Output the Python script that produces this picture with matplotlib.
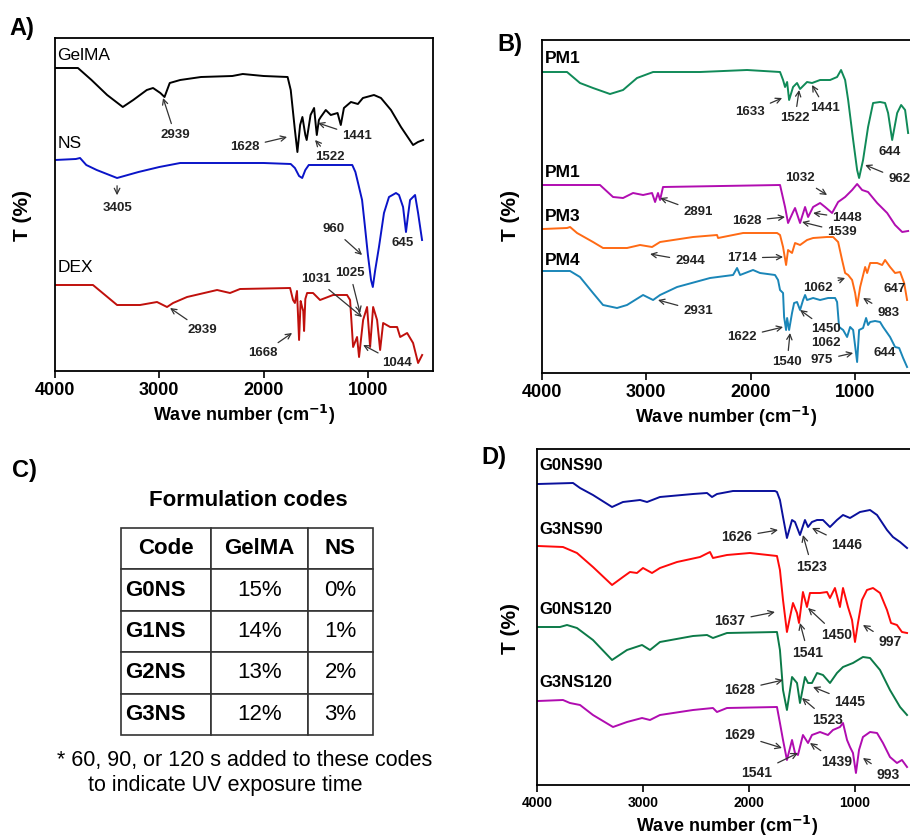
import matplotlib
matplotlib.use("Agg")
import matplotlib.pyplot as plt

plt.rcParams['font.family'] = ['Liberation Sans', 'DejaVu Sans']

# ---------------- Panel A data ----------------
gelma_wn = [4000,3780,3650,3500,3350,3250,3120,3060,2990,2950,2900,2800,2600,2300,2200,2000,1770,1740,1700,1676,1650,1628,1600,1587,1550,1516,1500,1490,1470,1452,1404,1356,1291,1260,1230,1163,1096,1048,942,875,779,683,567,520,471]
gelma_T  = [303,303,291,276,264,271,281,283,278,274,288,291,294,295,297,295,294,281,241,219,246,254,236,231,256,263,246,236,251,254,261,256,258,246,263,269,267,273,276,273,261,244,226,229,231]

ns_wn = [4000,3800,3760,3700,3600,3405,3200,3000,2800,2400,2000,1740,1700,1660,1630,1600,1567,1300,1150,1120,1090,1056,1030,1000,970,953,930,894,846,798,731,702,663,635,615,596,548,519,481]
ns_T  = [211,212,213,206,201,193,199,204,208,208,208,207,203,195,193,201,206,206,206,199,186,171,146,116,91,84,101,124,158,174,178,176,164,139,156,171,176,158,131]

dex_wn = [4000,3636,3405,3185,3022,2926,2868,2734,2446,2322,2226,1746,1718,1700,1680,1660,1645,1631,1620,1612,1600,1583,1526,1459,1334,1200,1171,1142,1104,1085,1046,1008,979,950,912,883,854,787,720,691,624,567,519,480]
dex_T  = [86,86,66,66,69,64,68,74,81,78,82,83,71,68,80,31,70,64,60,40,72,78,78,71,76,76,71,24,34,14,51,64,24,64,51,21,48,44,44,34,38,28,8,16]

# ---------------- Panel B data ----------------
pm1a_wn = [3990,3760,3636,3511,3348,3223,3089,2935,2485,2034,1718,1689,1670,1650,1631,1593,1555,1526,1459,1411,1334,1238,1171,1133,1094,1065,1017,979,960,922,874,826,759,711,682,643,595,557,519,490]
pm1a_T  = [301,301,290,285,279,283,295,301,301,303,301,293,286,291,273,286,290,284,291,290,293,293,296,303,293,273,233,203,195,213,246,270,271,270,260,233,260,268,263,240]

pm1b_wn = [3990,3444,3319,3223,3127,3031,2945,2916,2888,2868,2840,1718,1670,1641,1593,1574,1526,1478,1449,1401,1334,1286,1219,1161,1094,1027,979,931,874,787,691,615,547,490]
pm1b_T  = [188,188,176,175,180,178,180,171,180,173,186,188,166,150,161,165,150,166,156,166,170,166,160,171,176,183,189,183,181,170,160,148,141,142]

pm3_wn = [3990,3760,3731,3664,3511,3415,3185,3060,2945,2868,2552,2322,2312,2072,1746,1718,1689,1660,1641,1603,1574,1526,1459,1401,1267,1209,1161,1123,1094,1065,1027,998,979,950,902,883,854,787,739,711,663,615,567,528,500]
pm3_T  = [144,145,146,140,131,125,125,128,126,131,136,138,135,140,140,138,126,108,123,120,130,128,133,135,136,136,131,113,100,98,93,80,67,86,106,100,110,110,108,113,106,100,101,90,73]

pm4_wn = [3990,3731,3636,3511,3415,3281,3185,3031,2935,2868,2705,2389,2168,2130,2101,1977,1910,1766,1737,1718,1689,1679,1660,1650,1631,1603,1583,1555,1526,1497,1478,1459,1401,1334,1257,1190,1171,1152,1113,1075,1046,1017,979,960,922,893,874,854,807,759,730,663,615,576,538,500]
pm4_T  = [102,102,96,80,68,65,68,78,73,78,86,95,98,105,98,103,100,98,93,83,80,56,43,55,43,60,70,71,63,73,78,73,75,73,75,75,71,46,43,36,46,43,11,43,45,55,48,51,52,51,46,36,26,25,15,6]

# ---------------- Panel D data ----------------
g0ns90_wn = [3991,3660,3594,3472,3292,3189,3028,2962,2840,2528,2396,2349,2302,2151,1755,1736,1708,1679,1642,1594,1566,1519,1472,1443,1406,1358,1302,1236,1170,1113,1047,953,858,792,698,642,575,509]
g0ns90_T  = [301,302,297,290,278,283,285,283,288,291,292,288,291,294,294,293,285,268,247,265,263,250,265,258,263,265,265,258,265,270,267,273,275,270,255,248,243,237]

g3ns90_wn = [3991,3755,3689,3623,3472,3292,3189,3123,3057,3000,2915,2840,2679,2462,2368,2340,2208,1991,1736,1708,1679,1642,1613,1585,1547,1528,1491,1453,1425,1330,1264,1236,1189,1142,1113,1066,1028,1000,972,934,887,830,764,698,660,604,557,509]
g3ns90_T  = [239,238,235,232,218,200,208,213,212,217,212,217,223,228,233,227,230,232,229,215,185,153,168,182,172,162,193,178,192,192,193,187,197,178,197,178,165,143,162,185,195,197,192,175,162,160,153,152]

g0ns120_wn = [3991,3783,3717,3623,3472,3292,3151,3009,2934,2840,2528,2396,2340,2208,1736,1708,1679,1642,1594,1547,1519,1472,1443,1406,1358,1302,1236,1170,1113,1019,925,858,764,670,575,509]
g0ns120_T  = [158,158,160,157,145,125,135,140,135,143,149,150,147,152,153,135,95,75,108,102,82,108,102,102,112,110,102,112,118,122,128,127,115,95,78,70]

g3ns120_wn = [3991,3755,3689,3594,3472,3283,3151,3009,2934,2840,2528,2340,2302,2208,1736,1708,1679,1642,1594,1566,1538,1491,1443,1406,1330,1255,1208,1142,1113,1075,1047,1019,991,962,925,858,792,736,670,604,557,509]
g3ns120_T  = [84,85,82,80,70,58,63,67,65,70,75,77,73,77,78,62,45,25,45,32,30,50,42,50,53,50,55,58,62,45,38,32,12,35,48,53,52,42,28,22,25,18]

# ---------------- Table data (panel C) ----------------
table_cols = ["Code", "GelMA", "NS"]
table_codes = ["G0NS", "G1NS", "G2NS", "G3NS"]
table_gelma = ["15%", "14%", "13%", "12%"]
table_ns = ["0%", "1%", "2%", "3%"]

# ---------------- annotations: (label, tip_wn, tip_T, text_wn, text_T) ----------------
ann_A = [("2939", 2964, 273, 2849, 236), ("1628", 1775, 234, 2178, 224),
         ("1522", 1507, 231, 1363, 214), ("1441", 1478, 248, 1104, 235),
         ("960", 1056, 116, 1334, 142), ("1031", 1056, 54, 1497, 92),
         ("1025", 1075, 58, 1171, 98), ("2939", 2897, 63, 2590, 41),
         ("1668", 1727, 38, 2005, 18), ("1044", 1046, 26, 720, 8)]
txt_A = [("3405", 3396, 163), ("645", 672, 128)]

ann_B = [("1633", 1698, 275, 2005, 261), ("1522", 1535, 283, 1574, 255),
         ("1441", 1411, 288, 1286, 265), ("962", 902, 208, 576, 194),
         ("1032", 1267, 178, 1526, 195), ("2891", 2868, 175, 2504, 161),
         ("1628", 1670, 156, 2034, 152), ("1448", 1401, 160, 1075, 155),
         ("1539", 1507, 151, 1123, 141), ("2944", 2964, 119, 2581, 112),
         ("1714", 1689, 116, 2082, 115), ("1062", 1094, 95, 1353, 85),
         ("983", 922, 75, 682, 60), ("2931", 2888, 73, 2504, 62),
         ("1622", 1689, 46, 2082, 36), ("1540", 1622, 40, 1650, 11),
         ("1450", 1526, 63, 1276, 44), ("975", 1017, 20, 1315, 13)]
txt_B = [("644", 663, 221), ("647", 615, 84), ("1062", 1276, 30), ("644", 711, 20)]

ann_D = [("1626", 1726, 255, 2113, 248), ("1523", 1491, 250, 1406, 218),
         ("1446", 1406, 257, 1075, 240), ("1637", 1755, 173, 2179, 164),
         ("1541", 1519, 162, 1443, 132), ("1450", 1443, 177, 1170, 150),
         ("997", 925, 160, 670, 143), ("1628", 1679, 105, 2085, 95),
         ("1523", 1500, 87, 1255, 65), ("1445", 1396, 98, 1047, 83),
         ("1629", 1689, 37, 2085, 50), ("1541", 1538, 32, 1925, 12),
         ("1439", 1425, 42, 1170, 23), ("993", 925, 27, 689, 10)]

W, H = 910, 838
fig = plt.figure(figsize=(W / 100, H / 100), dpi=100)

def axes_px(l, t, r, b):
    return fig.add_axes([l / W, 1 - b / H, (r - l) / W, (b - t) / H])

def style(ax, xlim, ylim, tick_fs, right=True):
    ax.set_xlim(*xlim)
    ax.set_ylim(*ylim)
    ax.set_yticks([])
    ax.set_xticks([4000, 3000, 2000, 1000])
    ax.tick_params(axis='x', direction='out', length=5, width=1.2, labelsize=tick_fs, pad=3)
    for lab in ax.get_xticklabels():
        lab.set_fontweight('bold')
    for s in ax.spines.values():
        s.set_linewidth(1.3)
    if not right:
        ax.spines['right'].set_visible(False)

def annotate(ax, anns, txts, fs=9.5):
    for lab, xw, yt, tx, ty in anns:
        ax.annotate(lab, xy=(xw, yt), xytext=(tx, ty), ha='center', va='center',
                    fontsize=fs, fontweight='bold', color='#222222',
                    arrowprops=dict(arrowstyle='->', color='#333333', lw=0.9,
                                    shrinkA=2, shrinkB=0))
    for lab, tx, ty in txts:
        ax.text(tx, ty, lab, ha='center', va='center', fontsize=fs,
                fontweight='bold', color='#222222')

lw = 1.4
xl = "Wave number (cm$^{\\mathbf{-1}}$)"
# ---------------- Panel A ----------------
axA = axes_px(55, 38, 433, 371)
axA.plot(gelma_wn, gelma_T, color='black', lw=lw)
axA.plot(ns_wn, ns_T, color='#0a14c8', lw=lw)
axA.plot(dex_wn, dex_T, color='#c0100c', lw=lw)
style(axA, (4000, 376), (0, 333), 13)
axA.annotate("", xy=(3405, 173), xytext=(3405, 188),
             arrowprops=dict(arrowstyle='->', color='#333333', lw=0.9))
annotate(axA, ann_A, txt_A)
for lab, ty in [("GelMA", 316), ("NS", 228), ("DEX", 103)]:
    axA.text(3975, ty, lab, ha='left', va='center', fontsize=12.5)
axA.set_xlabel(xl, fontsize=13, fontweight='bold', labelpad=3)

# ---------------- Panel B ----------------
axB = axes_px(542, 40, 910, 373)
axB.plot(pm1a_wn, pm1a_T, color='#108a58', lw=lw)
axB.plot(pm1b_wn, pm1b_T, color='#b10db1', lw=lw)
axB.plot(pm3_wn, pm3_T, color='#ff6a14', lw=lw)
axB.plot(pm4_wn, pm4_T, color='#1a86b8', lw=lw)
style(axB, (4000, 472), (0, 333), 13, right=False)
annotate(axB, ann_B, txt_B)
for lab, ty in [("PM1", 315), ("PM1", 201), ("PM3", 157), ("PM4", 113)]:
    axB.text(3975, ty, lab, ha='left', va='center', fontsize=12.5, fontweight='bold')
axB.set_xlabel(xl, fontsize=13, fontweight='bold', labelpad=3)

# ---------------- Panel D ----------------
axD = axes_px(537, 449, 910, 785)
axD.plot(g0ns90_wn, g0ns90_T, color='#0a109c', lw=lw)
axD.plot(g3ns90_wn, g3ns90_T, color='#ff0a0a', lw=lw)
axD.plot(g0ns120_wn, g0ns120_T, color='#0c7a48', lw=lw)
axD.plot(g3ns120_wn, g3ns120_T, color='#b00cb0', lw=lw)
style(axD, (4000, 481), (0, 336), 10, right=False)
annotate(axD, ann_D, [], fs=10)
for lab, ty in [("G0NS90", 320), ("G3NS90", 255), ("G0NS120", 176), ("G3NS120", 103)]:
    axD.text(3975, ty, lab, ha='left', va='center', fontsize=12, fontweight='bold')
fig.text(727 / W, 1 - 826 / H, xl, ha='center', va='center',
         fontsize=13, fontweight='bold')

# ---------------- Panel C (table) ----------------
fig.text(248 / W, 1 - 500 / H, "Formulation codes", ha='center', va='center',
         fontsize=16, fontweight='bold')
axC = axes_px(121, 528, 373, 735)
axC.axis('off')
cell_text = [[c, g, n] for c, g, n in zip(table_codes, table_gelma, table_ns)]
tbl = axC.table(cellText=cell_text, colLabels=table_cols, bbox=[0, 0, 1, 1],
                colWidths=[90, 97, 65], cellLoc='center')
tbl.auto_set_font_size(False)
tbl.set_fontsize(16)
for (r, c), cell in tbl.get_celld().items():
    cell.set_linewidth(1.2)
    cell.set_edgecolor('#333333')
    txt = cell.get_text()
    if r == 0:
        txt.set_fontweight('bold')
    elif c == 0:
        txt.set_fontweight('bold')
        cell.set_text_props(ha='left')
        cell.PAD = 0.05
fig.text(245 / W, 1 - 760 / H, "* 60, 90, or 120 s added to these codes", ha='center',
         va='center', fontsize=15.5)
fig.text(225 / W, 1 - 785 / H, "to indicate UV exposure time", ha='center',
         va='center', fontsize=15.5)

# ---------------- panel letters & y labels ----------------
for lab, x, y in [("A)", 22, 29), ("B)", 510, 45), ("C)", 24, 470), ("D)", 494, 457)]:
    fig.text(x / W, 1 - y / H, lab, ha='center', va='center', fontsize=17, fontweight='bold')
for x, y in [(22, 215), (510, 215), (510, 628)]:
    fig.text(x / W, 1 - y / H, "T (%)", ha='center', va='center', rotation=90,
             fontsize=15, fontweight='bold')

fig.savefig("out.png", dpi=100)
